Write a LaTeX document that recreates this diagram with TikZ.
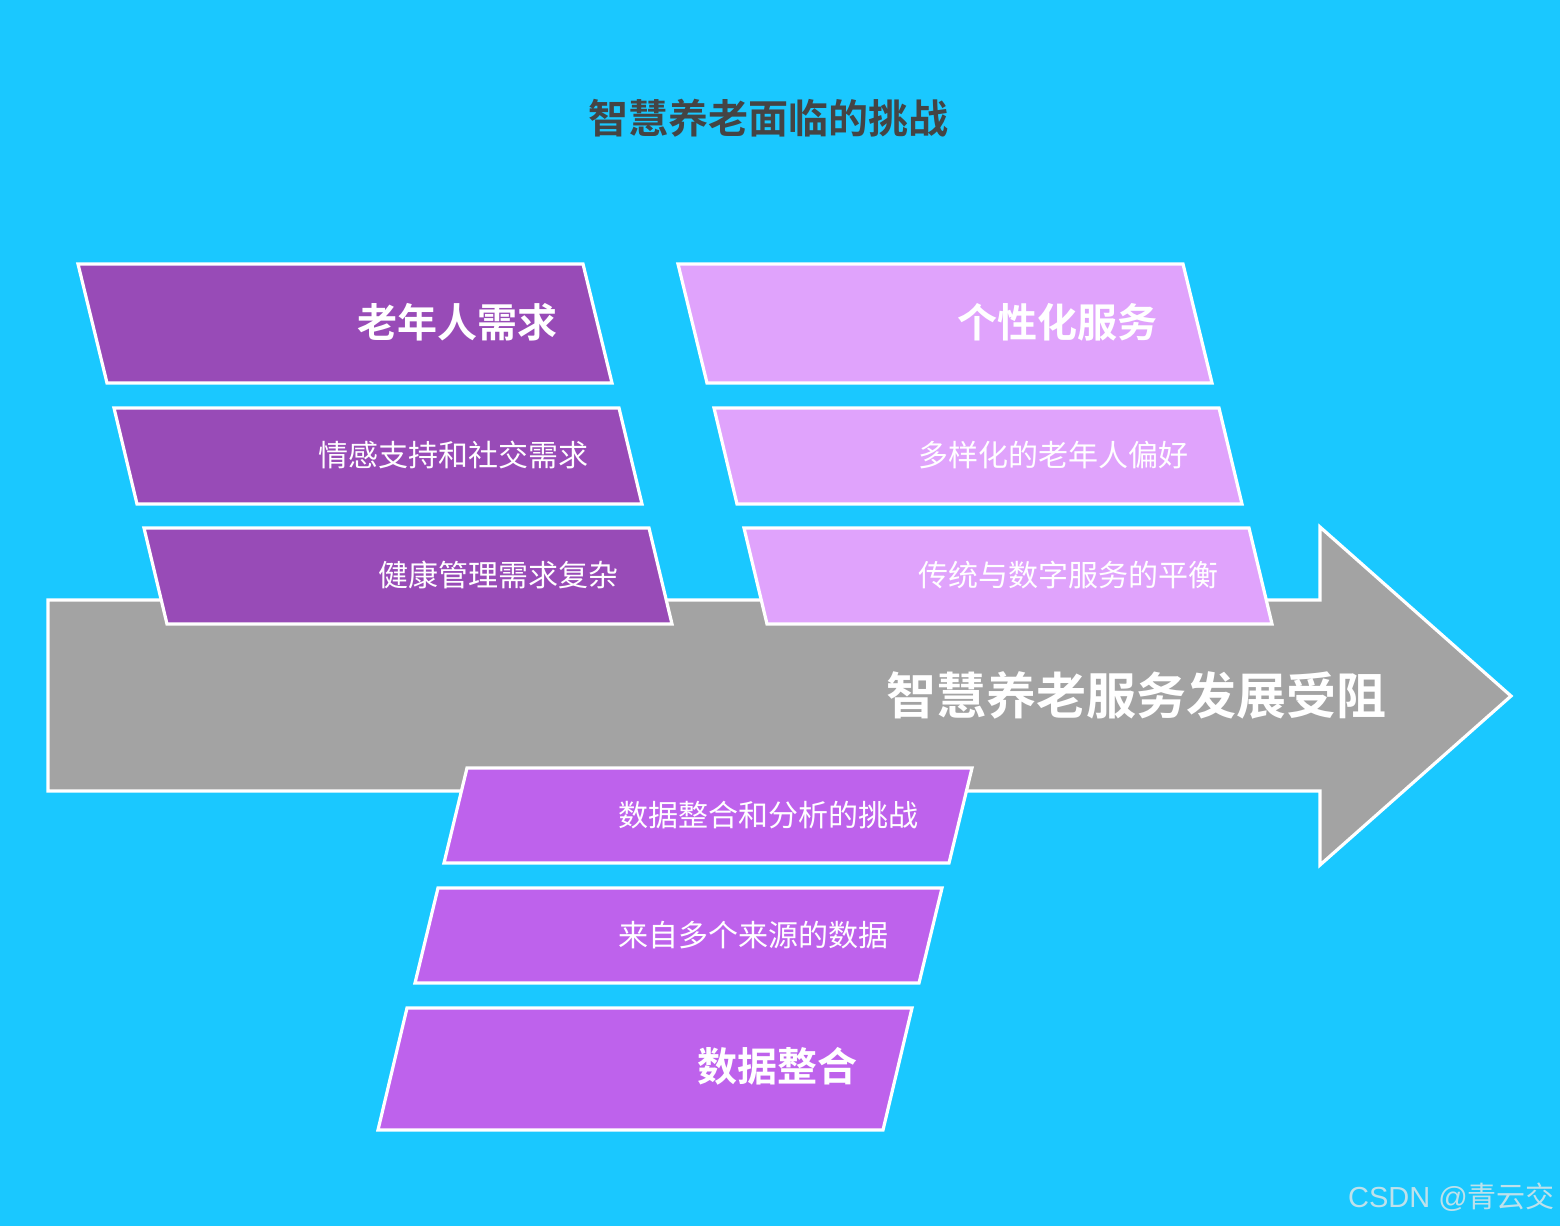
\documentclass[tikz,border=0pt]{standalone}
\usepackage{fontspec}
\setmainfont{Noto Sans CJK SC}
\newfontfamily\cjkb{Noto Sans CJK SC Bold}
\newfontfamily\wmlatin{Liberation Sans}
\definecolor{bg}{RGB}{26,200,255}
\definecolor{pdark}{RGB}{152,75,183}
\definecolor{plight}{RGB}{224,163,252}
\definecolor{pmid}{RGB}{190,98,236}
\definecolor{arrgray}{RGB}{163,163,163}
\definecolor{titlegray}{RGB}{68,68,68}
\definecolor{wm}{RGB}{190,225,235}
\begin{document}
\begin{tikzpicture}[x=1pt,y=-1pt,
  shp/.style={draw=white,line width=3.2pt,line join=miter},
  big/.style={anchor=east,inner sep=0pt,text=white,font=\cjkb\fontsize{40}{40}\selectfont},
  small/.style={anchor=east,inner sep=0pt,text=white,font=\fontsize{30}{30}\selectfont}]
\fill[bg] (0,0) rectangle (1560,1226);
\useasboundingbox (0,0) rectangle (1560,1226);
% title
\node[inner sep=0pt,text=titlegray,font=\cjkb\fontsize{40}{40}\selectfont] (title) at (768,118) {智慧养老面临的挑战};
% arrow
\draw[shp,fill=arrgray] (48,600) -- (1320,600) -- (1320,527) -- (1511,696) -- (1320,865) -- (1320,791) -- (48,791) -- cycle;
\node[anchor=east,inner sep=0pt,text=white,font=\cjkb\fontsize{50}{50}\selectfont] (main) at (1387,695) {智慧养老服务发展受阻};
% left column
\draw[shp,fill=pdark] (78,264) -- (583,264) -- (612,383) -- (107,383) -- cycle;
\node[big] (n1) at (558,322) {老年人需求};
\draw[shp,fill=pdark] (114,408) -- (619,408) -- (642,504) -- (137,504) -- cycle;
\node[small] (n2) at (589,455) {情感支持和社交需求};
\draw[shp,fill=pdark] (144,528) -- (649,528) -- (672,624) -- (167,624) -- cycle;
\node[small] (n3) at (619,575) {健康管理需求复杂};
% right column
\draw[shp,fill=plight] (678,264) -- (1183,264) -- (1212,383) -- (707,383) -- cycle;
\node[big] (m1) at (1158,322) {个性化服务};
\draw[shp,fill=plight] (714,408) -- (1219,408) -- (1242,504) -- (737,504) -- cycle;
\node[small] (m2) at (1189,455) {多样化的老年人偏好};
\draw[shp,fill=plight] (744,528) -- (1249,528) -- (1272,624) -- (767,624) -- cycle;
\node[small] (m3) at (1219,575) {传统与数字服务的平衡};
% bottom column
\draw[shp,fill=pmid] (467,768) -- (972,768) -- (949,863) -- (444,863) -- cycle;
\node[small] (b1) at (919,815) {数据整合和分析的挑战};
\draw[shp,fill=pmid] (438,888) -- (942,888) -- (919,983) -- (415,983) -- cycle;
\node[small] (b2) at (889,935) {来自多个来源的数据};
\draw[shp,fill=pmid] (407,1008) -- (912,1008) -- (883,1130) -- (378,1130) -- cycle;
\node[big] (b3) at (858,1066) {数据整合};
% watermark
\node[anchor=east,inner sep=0pt,text=wm,font=\fontsize{29}{29}\selectfont] (wmk) at (1555,1197) {{\wmlatin CSDN @}青云交};
\end{tikzpicture}
\end{document}
